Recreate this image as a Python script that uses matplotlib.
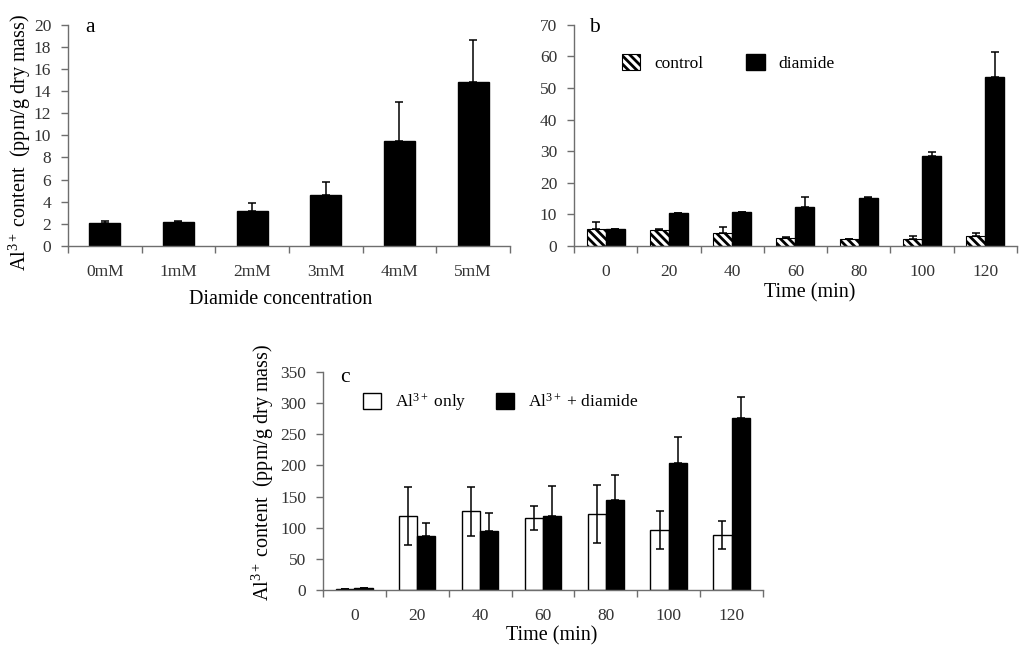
import matplotlib
matplotlib.use('Agg')
import matplotlib.pyplot as plt
import numpy as np

plt.rcParams['font.family'] = ['Liberation Serif', 'DejaVu Serif']
plt.rcParams['mathtext.fontset'] = 'custom'
plt.rcParams['mathtext.rm'] = 'Liberation Serif'
plt.rcParams['mathtext.it'] = 'Liberation Serif:italic'
plt.rcParams['hatch.linewidth'] = 2.0

# panel a
conc_labels = ['0mM', '1mM', '2mM', '3mM', '4mM', '5mM']
conc_values = [2.05, 2.15, 3.2, 4.65, 9.5, 14.85]
conc_err = [0.25, 0.1, 0.65, 1.1, 3.5, 3.8]

# panel b
time_labels = ['0', '20', '40', '60', '80', '100', '120']
control_values = [5.5, 5.05, 4.0, 2.6, 2.1, 2.1, 3.05]
control_err = [2.2, 0.35, 2.1, 0.35, 0.2, 1.1, 1.05]
diamide_values = [5.25, 10.5, 10.85, 12.3, 15.2, 28.6, 53.4]
diamide_err = [0.25, 0.0, 0.0, 3.3, 0.15, 1.2, 8.0]

# panel c
al_only_values = [2.0, 119, 126.5, 115, 122, 96, 88.4]
al_only_err = [0, 47, 39.5, 19.5, 46.5, 30.5, 22.5]
al_diamide_values = [3.5, 86.3, 95, 119.5, 145, 204, 275.5]
al_diamide_err = [0, 20.7, 29, 47, 40, 41, 34.5]

ylab = r'Al$^{\mathrm{3+}}$ content  (ppm/g dry mass)'
spine_col = '#6e6e6e'
tick_col = '#333333'
tick_fs = 12.5
lab_fs = 14.5
err_kw = dict(ecolor='black', elinewidth=1.1, capthick=1.1)
cap = 2.6


def style_axes(ax, n, ymax, ystep):
    for s in ['top', 'right']:
        ax.spines[s].set_visible(False)
    for s in ['left', 'bottom']:
        ax.spines[s].set_color(spine_col)
        ax.spines[s].set_linewidth(1.0)
    ax.set_xlim(-0.5, n - 0.5)
    ax.set_ylim(0, ymax)
    ax.set_yticks(np.arange(0, ymax + ystep / 2, ystep))
    ax.set_xticks(np.arange(-0.5, n, 1.0))
    ax.set_xticklabels([])
    ax.tick_params(axis='both', direction='out', length=5, width=1, color=spine_col,
                   labelsize=tick_fs, labelcolor=tick_col)
    ax.tick_params(axis='y', pad=7)


def center_labels(ax, labels):
    pos = np.arange(len(labels))
    ax.set_xticks(pos, minor=True)
    ax.set_xticklabels(labels, minor=True)
    ax.tick_params(axis='x', which='minor', length=0, pad=13,
                   labelsize=tick_fs, labelcolor=tick_col)


fig = plt.figure(figsize=(10.24, 6.54), dpi=100)

# ---- a ----
axa = fig.add_axes([0.0664, 0.6239, 0.4316, 0.3383])
xa = np.arange(len(conc_labels))
axa.bar(xa, conc_values, 0.42, color='black', edgecolor='black',
        yerr=[np.zeros(len(conc_err)), conc_err], capsize=cap, error_kw=err_kw)
style_axes(axa, len(conc_labels), 20, 2)
center_labels(axa, conc_labels)
axa.set_xlabel('Diamide concentration', fontsize=lab_fs, va='center')
axa.xaxis.set_label_coords(0.48, -0.244)
axa.set_ylabel(ylab, fontsize=lab_fs, va='center')
axa.yaxis.set_label_coords(-0.109, 0.468)
axa.text(0.038, 0.968, 'a', transform=axa.transAxes, fontsize=15.5, va='baseline')

# ---- b ----
axb = fig.add_axes([0.5605, 0.6239, 0.4326, 0.3383])
xb = np.arange(len(time_labels))
wb = 0.30
axb.bar(xb - wb / 2, control_values, wb, color='white', edgecolor='black', hatch='\\\\\\\\',
        linewidth=0.8, yerr=[np.zeros(len(control_err)), control_err], label='control',
        capsize=cap, error_kw=err_kw)
axb.bar(xb + wb / 2, diamide_values, wb, color='black', edgecolor='black',
        yerr=[np.zeros(len(diamide_err)), diamide_err], label='diamide',
        capsize=cap, error_kw=err_kw)
style_axes(axb, len(time_labels), 70, 10)
center_labels(axb, time_labels)
axb.set_xlabel('Time (min)', fontsize=lab_fs, va='center')
axb.xaxis.set_label_coords(0.533, -0.212)
axb.text(0.035, 0.968, 'b', transform=axb.transAxes, fontsize=15.5, va='baseline')
axb.legend(loc='center left', bbox_to_anchor=(0.108, 0.827), ncol=2, frameon=False,
           fontsize=12.5, handlelength=1.05, handleheight=1.05, handletextpad=0.8,
           columnspacing=2.5, borderpad=0, borderaxespad=0)

# ---- c ----
axc = fig.add_axes([0.3154, 0.0979, 0.4297, 0.3333])
xc = np.arange(len(time_labels))
wc = 0.29
axc.bar(xc - wc / 2, al_only_values, wc, color='white', edgecolor='black', linewidth=1.0,
        yerr=al_only_err, label=r'Al$^{\mathrm{3+}}$ only', capsize=cap, error_kw=err_kw)
axc.bar(xc + wc / 2, al_diamide_values, wc, color='black', edgecolor='black',
        yerr=[np.zeros(len(al_diamide_err)), al_diamide_err],
        label=r'Al$^{\mathrm{3+}}$ + diamide', capsize=cap, error_kw=err_kw)
style_axes(axc, len(time_labels), 350, 50)
center_labels(axc, time_labels)
axc.set_xlabel('Time (min)', fontsize=lab_fs, va='center')
axc.xaxis.set_label_coords(0.519, -0.211)
axc.set_ylabel(ylab, fontsize=lab_fs, va='center')
axc.yaxis.set_label_coords(-0.136, 0.539)
axc.text(0.039, 0.955, 'c', transform=axc.transAxes, fontsize=15.5, va='baseline')
axc.legend(loc='center left', bbox_to_anchor=(0.091, 0.862), ncol=2, frameon=False,
           fontsize=12.5, handlelength=1.05, handleheight=1.05, handletextpad=0.8,
           columnspacing=1.7, borderpad=0, borderaxespad=0)

fig.savefig('out.png', dpi=100)
